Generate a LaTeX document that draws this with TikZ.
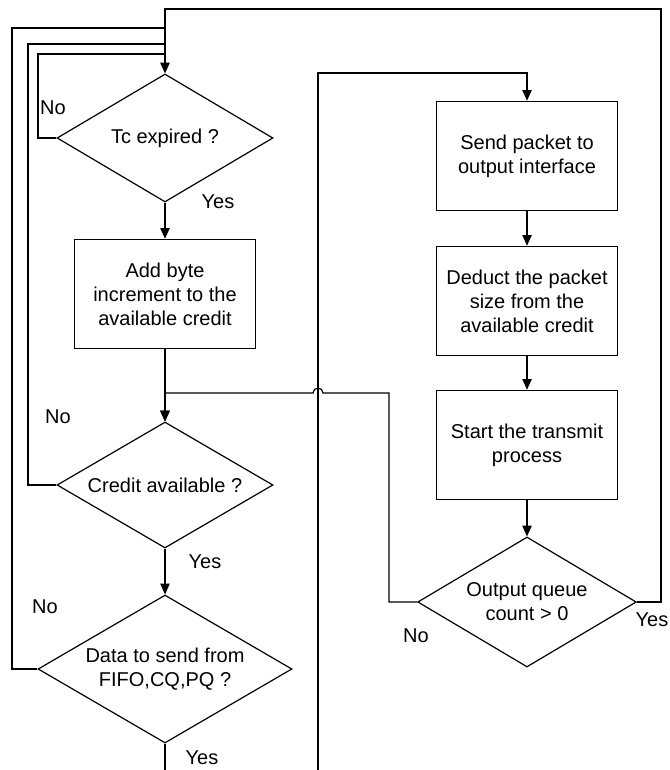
\documentclass[tikz,border=0pt]{standalone}
\usepackage{fontspec}
\setmainfont{Liberation Sans}
\usetikzlibrary{arrows.meta}
\usetikzlibrary{shapes.geometric}

\begin{document}
\begin{tikzpicture}[x=0.75pt, y=-0.75pt,
		font=\fontsize{15}{18}\selectfont,
		line width=0.9pt,
		decision/.style={draw, diamond, aspect=1.7, inner sep=0pt, align=center},
		block/.style={draw, rectangle, inner sep=2pt, align=center, minimum width=136pt, minimum height=82pt},
		flow/.style={-{Triangle[length=8pt,width=7pt]}},
		answer/.style={inner sep=0pt}]
		\useasboundingbox (0,0) rectangle (670,770);
		
		\node[decision, minimum width=162pt, minimum height=96pt] (tc) at (165,138) {Tc expired ?};
		\node[block] (add) at (165,294) {Add byte\\increment to the\\available credit};
		\node[decision, minimum width=162pt, minimum height=94.5pt] (credit) at (165,485) {Credit available ?};
		\node[decision, minimum width=190.5pt, minimum height=111pt] (data) at (165,669) {Data to send from\\FIFO,CQ,PQ ?};
		\node[block] (send) at (527,156) {Send packet to\\output interface};
		\node[block] (deduct) at (527,301) {Deduct the packet\\size from the\\available credit};
		\node[block] (start) at (527,445) {Start the transmit\\process};
		\node[decision, minimum width=164pt, minimum height=97.5pt] (outq) at (527,602) {Output queue\\count > 0};
		
		\node[answer] (tcno) at (53,108) {No};
		\node[answer] (tcyes) at (218,202) {Yes};
		\node[answer] (crno) at (58,417) {No};
		\node[answer] (cryes) at (205,562) {Yes};
		\node[answer] (datano) at (45,607) {No};
		\node[answer] (datayes) at (202,758) {Yes};
		\node[answer] (outno) at (416,636) {No};
		\node[answer] (outyes) at (652,620) {Yes};
		
		\coordinate (looptop) at (661,9);
		\coordinate (tcloop) at (38,54);
		\coordinate (crloop) at (28,44);
		\coordinate (dataloop) at (12,28);
		\coordinate (ret) at (389,393);
		\coordinate (intop) at (318,73);
		\coordinate (inbot) at (318,770);
		\coordinate (outbot) at (165,770);
		
		% loops back to the timer test
		\draw[flow] (outq.east) -| (looptop) -| (tc.north);
		\draw (tc.west) -| (tcloop) -- (tcloop -| tc.north);
		\draw (credit.west) -| (crloop) -- (crloop -| tc.north);
		\draw (data.west) -| (dataloop) -- (dataloop -| tc.north);
		
		\draw[flow] (tc.south) -- (add.north);
		\draw[flow] (add.south) -- (credit.north);
		\draw[flow] (credit.south) -- (data.north);
		\draw (data.south) -- (outbot);
		
		\draw[flow] (inbot) -- (intop) -| (send.north);
		\draw[flow] (send.south) -- (deduct.north);
		\draw[flow] (deduct.south) -- (start.north);
		\draw[flow] (start.south) -- (outq.north);
		\draw[flow] (outq.west) -| (ret) -- ++(-66,0) arc[start angle=0, end angle=-180, radius=5] -- (ret -| credit.north) -- (credit.north);
		
\end{tikzpicture}
\end{document}
